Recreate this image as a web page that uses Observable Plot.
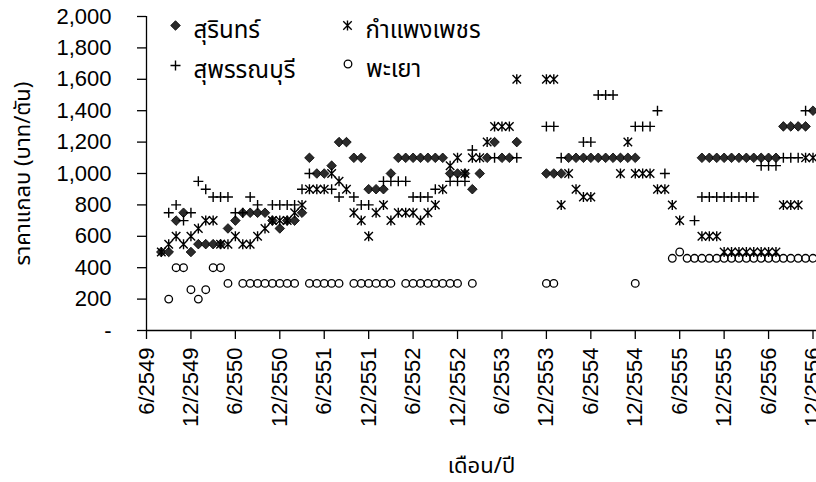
<!DOCTYPE html>
<html><head><meta charset="utf-8">
<script src="https://cdn.jsdelivr.net/npm/d3@7"></script>
<script src="https://cdn.jsdelivr.net/npm/@observablehq/plot@0.6"></script>
<style>
body{margin:0;background:#fff;}
</style></head><body><div id="chart"></div>
<script>
const N = null;
// month index 0 = 6/2549 ... 90 = 12/2556
const tickMonths = [0,6,12,18,24,30,36,42,48,54,60,66,72,78,84,90];
const tickLabels = ["6/2549","12/2549","6/2550","12/2550","6/2551","12/2551","6/2552","12/2552","6/2553","12/2553","6/2554","12/2554","6/2555","12/2555","6/2556","12/2556"];
const yTicks = [0,200,400,600,800,1000,1200,1400,1600,1800,2000];
const yTickLabels = ["-","200","400","600","800","1,000","1,200","1,400","1,600","1,800","2,000"];
const seriesNames = ["สุรินทร์","กำแพงเพชร","สุพรรณบุรี","พะเยา"];

const surin = [N,N,500,500,700,750,500,550,550,550,
 550,650,700,750,750,750,750,700,650,700,
 700,750,1100,1000,1000,1050,1200,1200,1100,1100,
 900,900,900,1000,1100,1100,1100,1100,1100,1100,
 1100,1000,1000,1000,900,1000,1100,1200,1100,1100,
 1200,N,N,N,1000,1000,1000,1100,1100,1100,
 1100,1100,1100,1100,1100,1100,1100,N,N,N,
 N,N,N,N,N,1100,1100,1100,1100,1100,
 1100,1100,1100,1100,1100,1100,1300,1300,1300,1300,
 1400];
const kamphaeng = [N,N,500,550,600,550,600,650,700,700,
 550,550,600,550,550,600,650,700,700,700,
 750,800,900,900,900,1000,950,900,750,700,
 600,750,800,700,750,750,750,700,750,800,
 900,1050,1100,1000,1100,1100,1200,1300,1300,1300,
 1600,N,N,N,1600,1600,800,1000,900,850,
 850,N,N,N,1000,1200,1000,1000,1000,900,
 900,800,700,N,N,600,600,600,500,500,
 500,500,500,500,500,500,800,800,800,1100,
 1100];
const suphan = [N,N,N,750,800,700,750,950,900,850,
 850,850,750,750,850,800,N,800,800,800,
 800,900,1000,N,N,900,850,N,850,800,
 800,N,950,950,950,950,850,850,850,900,
 N,950,950,950,1150,N,N,1100,N,N,
 1100,N,N,N,1300,1300,1100,N,N,1200,
 1200,1500,1500,1500,N,N,1300,1300,1300,1400,
 1000,N,N,N,700,850,850,850,850,850,
 850,850,850,1050,1050,1050,1100,1100,1100,1400,
 N];
const phayao = [N,N,N,200,400,400,260,200,260,400,
 400,300,N,300,300,300,300,300,300,300,
 300,N,300,300,300,300,300,N,300,300,
 300,300,300,300,N,300,300,300,300,300,
 300,300,300,N,300,N,N,N,N,N,
 N,N,N,N,300,300,N,N,N,N,
 N,N,N,N,N,N,300,N,N,N,
 N,460,500,460,460,460,460,460,460,460,
 460,460,460,460,460,460,460,460,460,460,
 460];

const tidy = arr => arr.map((v, m) => ({m, v})).filter(d => d.v != null);

const diamondSym = {draw(c, size){const r=Math.sqrt(size/Math.PI); c.moveTo(0,-r); c.lineTo(r,0); c.lineTo(0,r); c.lineTo(-r,0); c.closePath();}};
const plusSym = {draw(c, size){const r=Math.sqrt(size/Math.PI); c.moveTo(-r,0); c.lineTo(r,0); c.moveTo(0,-r); c.lineTo(0,r);}};
const starSym = {draw(c, size){const r=Math.sqrt(size/Math.PI); const a=r*0.85; c.moveTo(-a,-a); c.lineTo(a,a); c.moveTo(-a,a); c.lineTo(a,-a); c.moveTo(0,-r); c.lineTo(0,r);}};

const thaiFont = "Tahoma, 'Noto Sans Thai', 'Leelawadee UI', Loma, Garuda, 'Noto Sans', sans-serif";

const styles = [
  {symbol: diamondSym, r: 4.8, fill: "#2b2b2b", stroke: "#000", strokeWidth: 0.8},
  {symbol: starSym, r: 5, fill: "none", stroke: "#000", strokeWidth: 1.4},
  {symbol: plusSym, r: 5, fill: "none", stroke: "#000", strokeWidth: 1.4},
  {symbol: "circle", r: 3.8, fill: "none", stroke: "#000", strokeWidth: 1.3}
];
const seriesData = [surin, kamphaeng, suphan, phayao];

const legendPos = [[29, 9], [201, 9], [29, 49], [201.5, 47.5]];

const marks = [
  Plot.ruleX([0], {y1: 0, y2: 2000, stroke: "#000", strokeWidth: 1.3}),
  Plot.ruleY([0], {stroke: "#000", strokeWidth: 1.3}),
  Plot.axisY(yTicks, {tickSize: 9, tickPadding: 26, tickFormat: d => yTickLabels[yTicks.indexOf(d)], fontSize: 22, strokeWidth: 1.3, label: null}),
  Plot.axisX(tickMonths, {tickSize: 9, tickPadding: 8, tickRotate: -90, tickFormat: d => tickLabels[tickMonths.indexOf(d)], fontSize: 22, strokeWidth: 1.3, label: null}),
  Plot.text(["ราคาแกลบ (บาท/ตัน)"], {frameAnchor: "left", dx: -124, rotate: -90, textAnchor: "middle", lineAnchor: "middle", fontSize: 22, fontFamily: thaiFont}),
  Plot.text(["เดือน/ปี"], {frameAnchor: "bottom", dy: 135, textAnchor: "middle", lineAnchor: "middle", fontSize: 22, fontFamily: thaiFont})
];
seriesData.forEach((arr, i) => {
  marks.push(Plot.dot(tidy(arr), {x: "m", y: "v", ...styles[i]}));
});
seriesNames.forEach((name, i) => {
  const [dx, dy] = legendPos[i];
  marks.push(Plot.dot([name], {frameAnchor: "top-left", dx, dy, ...styles[i]}));
  marks.push(Plot.text([name], {frameAnchor: "top-left", dx: dx + 18, dy: dy + 5, textAnchor: "start", lineAnchor: "middle", fontSize: 24, fontFamily: thaiFont}));
});

const chart = Plot.plot({
  width: 816, height: 482,
  marginLeft: 146, marginRight: 0, marginTop: 16, marginBottom: 152,
  x: {domain: [0, 90], range: [146, 812.5]},
  y: {domain: [0, 2000], range: [330, 16]},
  style: {fontFamily: "'Liberation Sans', Arial, sans-serif", fontSize: "22px", color: "#000", background: "#fff", overflow: "visible"},
  marks
});
document.getElementById("chart").appendChild(chart);
</script>
</body></html>
